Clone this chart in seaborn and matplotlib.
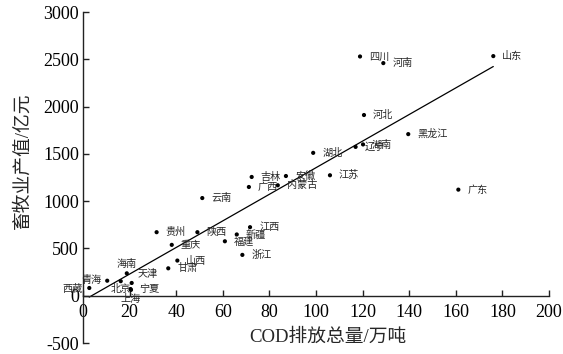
import matplotlib
matplotlib.use('Agg')
import matplotlib.pyplot as plt
import seaborn as sns
import pandas as pd

# 各省 COD 排放总量(万吨) 与 畜牧业产值(亿元)
provinces = ['山东', '四川', '河南', '河北', '黑龙江', '湖南', '辽宁', '湖北', '江苏', '广东',
             '安徽', '吉林', '广西', '内蒙古', '云南', '江西', '新疆', '陕西', '福建', '浙江',
             '贵州', '重庆', '山西', '甘肃', '海南', '天津', '北京', '青海', '宁夏', '上海', '西藏']
cod = [176.1, 118.9, 128.9, 120.6, 139.6, 120.2, 117.0, 98.8, 106.0, 161.1,
       87.1, 72.4, 71.2, 83.6, 51.2, 71.7, 66.0, 49.1, 60.9, 68.4,
       31.6, 38.1, 40.5, 36.6, 18.8, 20.9, 16.2, 10.4, 20.4, 20.6, 2.7]
output = [2534, 2530, 2460, 1911, 1709, 1600, 1574, 1511, 1274, 1122,
          1266, 1256, 1150, 1168, 1033, 725, 648, 672, 576, 432,
          672, 538, 372, 290, 237, 135, 154, 159, 71, 62, 82]

# 拟合线 y = a*x + b
fit_slope = 14.06
fit_intercept = -52

x_ticks = [0, 20, 40, 60, 80, 100, 120, 140, 160, 180, 200]
y_ticks = [-500, 0, 500, 1000, 1500, 2000, 2500, 3000]

# 标签偏移 (points) 与对齐, 其余默认在点右侧
label_pos = {
    '海南': ((0, 6.5), 'center'),
    '天津': ((4.5, 6.5), 'left'),
    '青海': ((-4, 0.5), 'right'),
    '北京': ((0, -5.5), 'center'),
    '上海': ((0, -6.5), 'center'),
    '西藏': ((-4.5, -0.5), 'right'),
}

df = pd.DataFrame({'province': provinces, 'cod': cod, 'output': output})

sns.set_style('ticks')
plt.rcParams['font.family'] = ['Liberation Serif', 'Noto Sans CJK SC']
plt.rcParams['axes.unicode_minus'] = False

fig = plt.figure(figsize=(5.63, 3.54), dpi=100)
ax = fig.add_axes([0.1474, 0.031, 0.8277, 0.935])

sns.scatterplot(data=df, x='cod', y='output', color='black', s=9,
                edgecolor='none', ax=ax, zorder=3)

xs = [min(cod), max(cod)]
ax.plot(xs, [fit_slope * v + fit_intercept for v in xs], color='black', lw=0.9)

for name, xv, yv in zip(provinces, cod, output):
    off, ha = label_pos.get(name, ((6.5, 0), 'left'))
    ax.annotate(name, (xv, yv), xytext=off, textcoords='offset points',
                ha=ha, va='center', fontsize=7.3, family='Noto Sans CJK SC',
                annotation_clip=False)

ax.set_xlim(0, 200)
ax.set_ylim(-500, 3000)
ax.set_xticks(x_ticks)
ax.set_yticks(y_ticks)
ax.spines['left'].set_position(('data', 0))
ax.spines['bottom'].set_position(('data', 0))
ax.spines['top'].set_visible(False)
ax.spines['right'].set_visible(False)
for s in ['left', 'bottom']:
    ax.spines[s].set_color('#222222')
    ax.spines[s].set_linewidth(1.0)
ax.tick_params(direction='in', length=4, width=1, color='#222222',
               labelsize=13, labelcolor='black')
ax.tick_params(axis='x', pad=6)
ax.tick_params(axis='y', pad=3)
for lab in ax.get_xticklabels() + ax.get_yticklabels():
    lab.set_family('Liberation Serif')

ax.set_xlabel('COD排放总量/万吨', fontsize=13.5)
ax.set_ylabel('畜牧业产值/亿元', fontsize=13.5)
ax.xaxis.set_label_coords(0.525, 0.017)
ax.yaxis.set_label_coords(-0.13, 0.55)
ax.xaxis.label.set_va('center')
ax.yaxis.label.set_va('center')

fig.savefig('out.png', dpi=100)
